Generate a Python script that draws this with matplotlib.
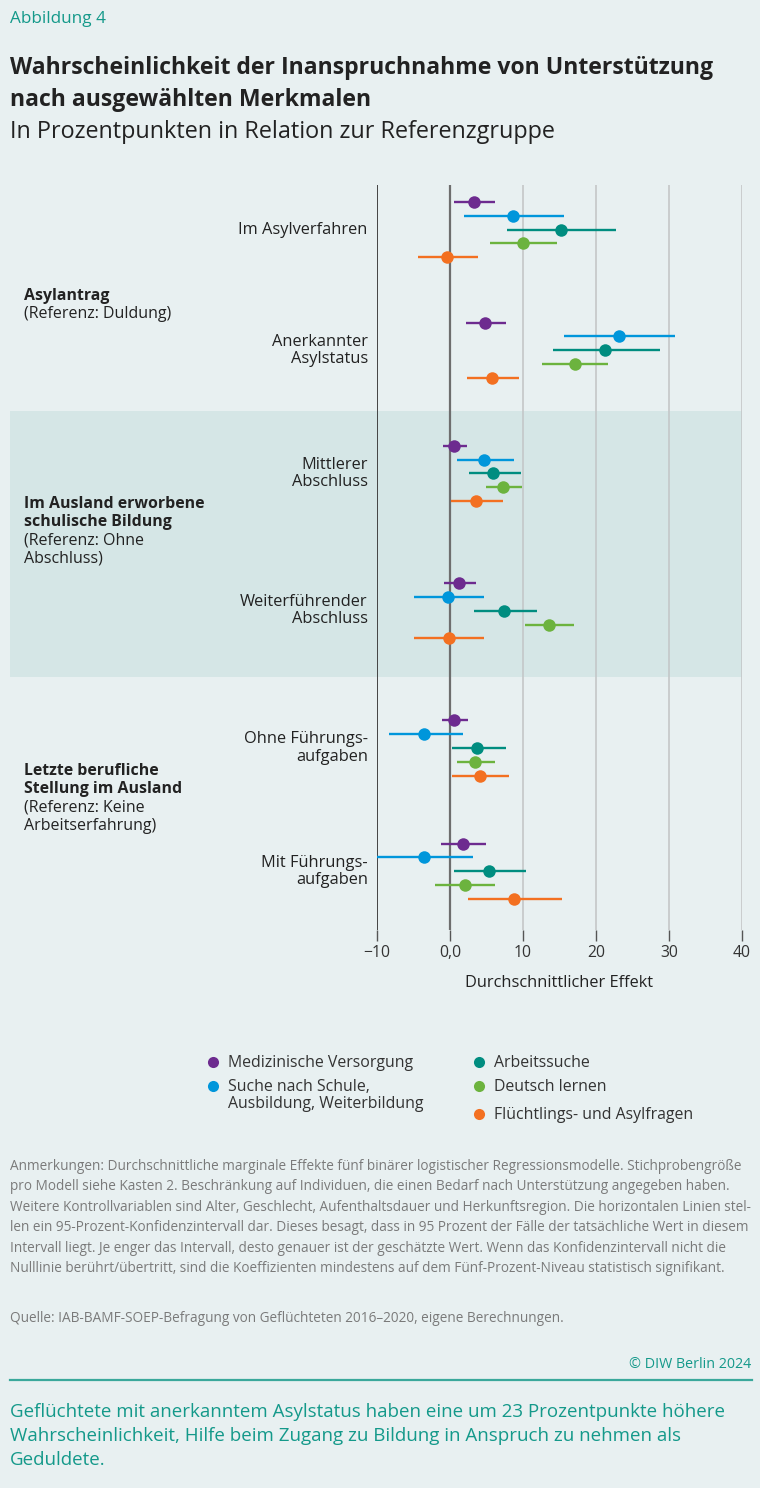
import matplotlib.pyplot as plt
from matplotlib.lines import Line2D
from matplotlib.patches import Rectangle
import matplotlib.transforms as mtransforms

# ---- data ----
groups = ['Im Asylverfahren', 'Anerkannter\nAsylstatus',
          'Mittlerer\nAbschluss', 'Weiterführender\nAbschluss',
          'Ohne Führungs-\naufgaben', 'Mit Führungs-\naufgaben']

series = ['Medizinische Versorgung',
          'Suche nach Schule,\nAusbildung, Weiterbildung',
          'Arbeitssuche', 'Deutsch lernen', 'Flüchtlings- und Asylfragen']

med_est = [3.3, 4.8, 0.5, 1.2, 0.6, 1.8]
med_lo = [0.6, 2.2, -1.0, -0.8, -1.1, -1.2]
med_hi = [6.1, 7.7, 2.3, 3.6, 2.5, 4.9]

schule_est = [8.6, 23.1, 4.6, -0.3, -3.6, -3.6]
schule_lo = [1.9, 15.6, 0.9, -5.0, -8.4, -10.1]
schule_hi = [15.6, 30.8, 8.7, 4.6, 1.8, 3.2]

arbeit_est = [15.2, 21.3, 5.9, 7.4, 3.7, 5.4]
arbeit_lo = [7.8, 14.1, 2.6, 3.3, 0.3, 0.6]
arbeit_hi = [22.7, 28.7, 9.7, 11.9, 7.7, 10.4]

deutsch_est = [10.0, 17.1, 7.3, 13.6, 3.4, 2.1]
deutsch_lo = [5.5, 12.6, 4.9, 10.3, 0.9, -2.1]
deutsch_hi = [14.7, 21.7, 9.8, 17.0, 6.1, 6.1]

asyl_est = [-0.4, 5.7, 3.6, -0.2, 4.1, 8.8]
asyl_lo = [-4.4, 2.3, 0.1, -4.9, 0.3, 2.5]
asyl_hi = [3.9, 9.4, 7.3, 4.6, 8.1, 15.4]

xticks = [-10, 0, 10, 20, 30, 40]
xticklabels = ['\u221210', '0,0', '10', '20', '30', '40']

# ---- style / layout ----
colors = ['#6d2b8f', '#0096db', '#008d80', '#6cb33e', '#f37021']
bg = '#e8f0f1'
band = '#d5e6e6'
teal_txt = '#14998a'
dark = '#222222'
plt.rcParams['font.family'] = ['Open Sans', 'DejaVu Sans']

group_pos = [0, 0.94, 1.9, 2.97, 4.04, 5.0]   # vertical layout of the groups
step = 0.1075                                  # offset between series
W, H = 760, 1488

fig = plt.figure(figsize=(W / 100, H / 100), dpi=100, facecolor=bg)


def fx(px):
    return px / W


def fy(py):
    return 1 - py / H


ax_l, ax_r, ax_t, ax_b = 377, 742, 185, 930
ax = fig.add_axes([fx(ax_l), fy(ax_b), fx(ax_r - ax_l), (ax_b - ax_t) / H])
ax.patch.set_alpha(0)
ax.set_xlim(-10, 40)
ax.set_ylim(5.458, -0.348)

# shaded band for second section, stretching to the left page margin
trans = mtransforms.blended_transform_factory(fig.transFigure, ax.transData)
ax.add_patch(Rectangle((fx(10), 1.413), fx(742) - fx(10), 3.486 - 1.413,
                       transform=trans, facecolor=band, edgecolor='none',
                       clip_on=False, zorder=0))

# vertical reference / grid lines
for xv in xticks:
    if xv == -10:
        c, lw = '#444444', 1.4
    elif xv == 0:
        c, lw = '#6e6e6e', 1.6
    else:
        c, lw = '#c4c7c8', 1.2
    ax.axvline(xv, color=c, lw=lw, zorder=1)

est = [med_est, schule_est, arbeit_est, deutsch_est, asyl_est]
lo = [med_lo, schule_lo, arbeit_lo, deutsch_lo, asyl_lo]
hi = [med_hi, schule_hi, arbeit_hi, deutsch_hi, asyl_hi]

for s in range(len(series)):
    ys = [g + (s - 2) * step for g in group_pos]
    ax.hlines(ys, lo[s], hi[s], color=colors[s], lw=1.7, zorder=3)
    ax.plot(est[s], ys, 'o', color=colors[s], ms=9, mec='none', zorder=4)

for g, lab in zip(group_pos, groups):
    ax.text(-0.025, g, lab, transform=ax.get_yaxis_transform(), ha='right',
            va='center', fontsize=11.8, color=dark, linespacing=1.1)

for sp in ax.spines.values():
    sp.set_visible(False)
ax.set_yticks([])
ax.set_xticks(xticks)
ax.set_xticklabels(xticklabels, fontsize=11.3, color='#333333')
ax.tick_params(axis='x', length=8, width=1, color='#555555', pad=3)
ax.set_xlabel('Durchschnittlicher Effekt', fontsize=11.8, color=dark,
              labelpad=10)

# section labels
sections = [
    (296, ['Asylantrag'], ['(Referenz: Duldung)']),
    (504, ['Im Ausland erworbene', 'schulische Bildung'],
     ['(Referenz: Ohne', 'Abschluss)']),
    (771, ['Letzte berufliche', 'Stellung im Ausland'],
     ['(Referenz: Keine', 'Arbeitserfahrung)']),
]
for y0, bold_lines, reg_lines in sections:
    y = y0
    for t in bold_lines:
        fig.text(fx(24), fy(y), t, fontsize=11.4, fontweight='bold',
                 color=dark, va='center')
        y += 18.3
    for t in reg_lines:
        fig.text(fx(24), fy(y), t, fontsize=11.5, color=dark, va='center')
        y += 18.3

# header
fig.text(fx(10), fy(19), 'Abbildung 4', fontsize=12.3, color=teal_txt,
         va='center')
fig.text(fx(10), fy(68), 'Wahrscheinlichkeit der Inanspruchnahme von Unterstützung',
         fontsize=16.6, fontweight='bold', color=dark, va='center')
fig.text(fx(10), fy(100), 'nach ausgewählten Merkmalen', fontsize=16.6,
         fontweight='bold', color=dark, va='center')
fig.text(fx(10), fy(132), 'In Prozentpunkten in Relation zur Referenzgruppe',
         fontsize=16.8, color=dark, va='center')

# legend
leg_pos = [(213, 1062), (213, 1086), (479, 1062), (479, 1086), (479, 1114)]
for s, (lx, ly) in enumerate(leg_pos):
    fig.add_artist(Line2D([fx(lx)], [fy(ly)], marker='o', color=colors[s],
                          ms=8, mec='none', transform=fig.transFigure))
    fig.text(fx(lx + 15), fy(ly - 7), series[s], fontsize=11.4,
             color='#333333', va='top', linespacing=1.1)

# notes
notes = [
    'Anmerkungen: Durchschnittliche marginale Effekte fünf binärer logistischer Regressionsmodelle. Stichprobengröße',
    'pro Modell siehe Kasten 2. Beschränkung auf Individuen, die einen Bedarf nach Unterstützung angegeben haben.',
    'Weitere Kontrollvariablen sind Alter, Geschlecht, Aufenthaltsdauer und Herkunftsregion. Die horizontalen Linien stel-',
    'len ein 95-Prozent-Konfidenzintervall dar. Dieses besagt, dass in 95 Prozent der Fälle der tatsächliche Wert in diesem',
    'Intervall liegt. Je enger das Intervall, desto genauer ist der geschätzte Wert. Wenn das Konfidenzintervall nicht die',
    'Nulllinie berührt/übertritt, sind die Koeffizienten mindestens auf dem Fünf-Prozent-Niveau statistisch signifikant.',
]
note_kw = dict(fontsize=9.8, color='#7a7a7a', va='center', family='Open Sans')
for i, t in enumerate(notes):
    fig.text(fx(10), fy(1166 + i * 20.6), t, **note_kw)
fig.text(fx(10), fy(1318), 'Quelle: IAB-BAMF-SOEP-Befragung von Geflüchteten 2016\u20132020, eigene Berechnungen.',
         **note_kw)

fig.text(fx(751), fy(1365), '\u00a9 DIW Berlin 2024', fontsize=10.3,
         color=teal_txt, ha='right', va='center')
fig.add_artist(Line2D([fx(10), fx(752)], [fy(1380), fy(1380)], color='#3aa89b',
                      lw=1.6, transform=fig.transFigure))

bottom = ['Geflüchtete mit anerkanntem Asylstatus haben eine um 23 Prozentpunkte höhere',
          'Wahrscheinlichkeit, Hilfe beim Zugang zu Bildung in Anspruch zu nehmen als',
          'Geduldete.']
for i, t in enumerate(bottom):
    fig.text(fx(10), fy(1412 + i * 24), t, fontsize=13.5, color=teal_txt,
             va='center')

plt.savefig('out.png', dpi=100, facecolor=bg)
